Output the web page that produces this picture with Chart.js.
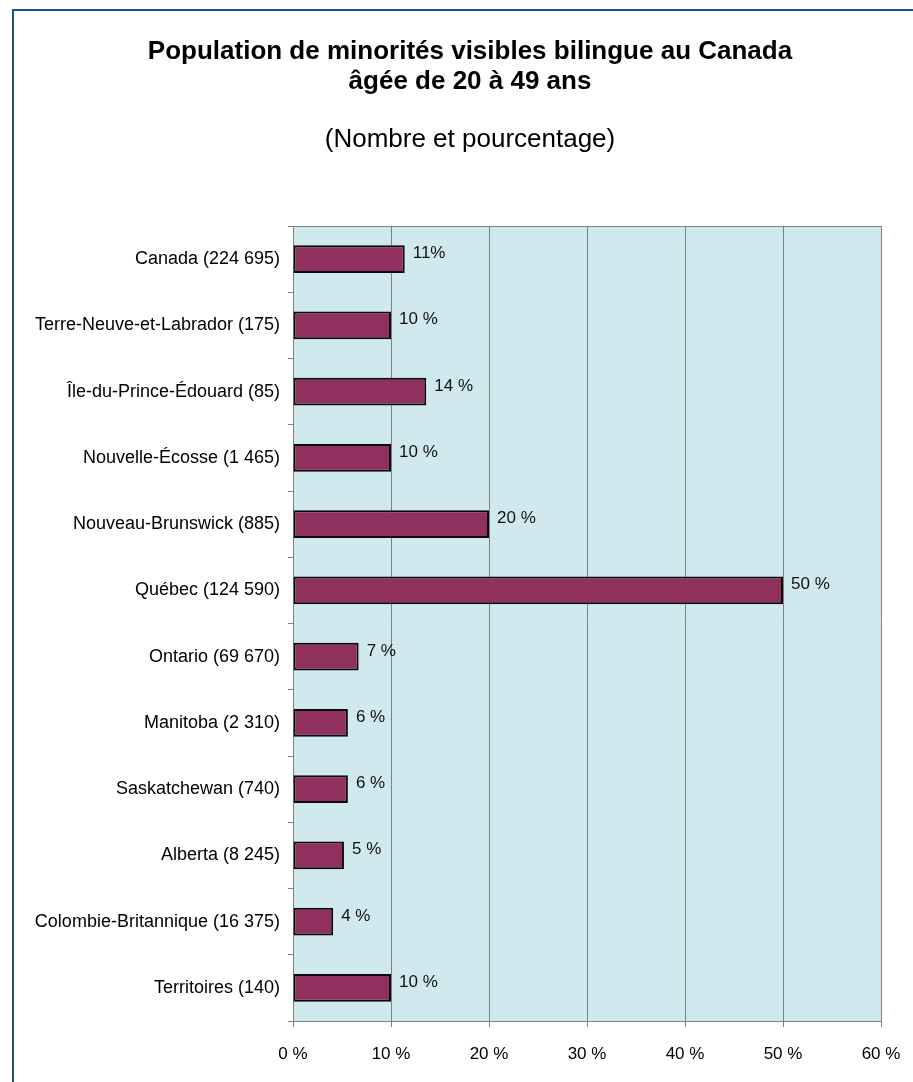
<!DOCTYPE html>
<html lang="fr">
<head>
<meta charset="utf-8">
<script src="https://cdn.jsdelivr.net/npm/chart.js@4.4.1/dist/chart.umd.min.js"></script>
<style>
  html, body { margin: 0; padding: 0; background: #ffffff; overflow: hidden; }
  #wrap { position: relative; width: 913px; height: 1082px; }
  #frame { position: absolute; left: 12px; top: 9px; width: 1000px; height: 1200px;
           border-left: 2px solid #1f4e8a; border-top: 2px solid #1f4e8a; pointer-events: none; }
  canvas { position: absolute; left: 0; top: 0; }
</style>
</head>
<body>
<div id="wrap">
  <canvas id="c" width="913" height="1082"></canvas>
  <div id="frame"></div>
</div>
<script>
const titleLines = ['Population de minorités visibles bilingue au Canada', 'âgée de 20 à 49 ans'];
const subtitleText = '(Nombre et pourcentage)';
const categories = [
  'Canada (224 695)',
  'Terre-Neuve-et-Labrador (175)',
  'Île-du-Prince-Édouard (85)',
  'Nouvelle-Écosse (1 465)',
  'Nouveau-Brunswick (885)',
  'Québec (124 590)',
  'Ontario (69 670)',
  'Manitoba (2 310)',
  'Saskatchewan (740)',
  'Alberta (8 245)',
  'Colombie-Britannique (16 375)',
  'Territoires (140)'
];
const percentValues = [11.4, 10.0, 13.6, 10.0, 20.0, 50.0, 6.7, 5.6, 5.6, 5.2, 4.1, 10.0];
const valueLabels = ['11%', '10 %', '14 %', '10 %', '20 %', '50 %', '7 %', '6 %', '6 %', '5 %', '4 %', '10 %'];
const xTickLabels = ['0 %', '10 %', '20 %', '30 %', '40 %', '50 %', '60 %'];

const FONT = "'Liberation Sans', Arial, sans-serif";

const plotBg = {
  id: 'plotBg',
  beforeDraw(chart) {
    const a = chart.chartArea, ctx = chart.ctx;
    ctx.save();
    ctx.fillStyle = '#cfe9ef';
    ctx.fillRect(a.left, a.top, a.right - a.left, a.bottom - a.top);
    ctx.restore();
  },
  afterDraw(chart) {
    const a = chart.chartArea, ctx = chart.ctx;
    ctx.save();
    ctx.strokeStyle = '#808080';
    ctx.lineWidth = 1;
    ctx.beginPath();
    ctx.moveTo(a.left, a.top + 0.5);
    ctx.lineTo(a.right, a.top + 0.5);
    ctx.stroke();
    ctx.restore();
  }
};

const barLabels = {
  id: 'barLabels',
  afterDatasetsDraw(chart) {
    const ctx = chart.ctx;
    const meta = chart.getDatasetMeta(0);
    ctx.save();
    ctx.font = '17px ' + FONT;
    ctx.fillStyle = '#111111';
    ctx.textAlign = 'left';
    ctx.textBaseline = 'alphabetic';
    meta.data.forEach((bar, i) => {
      ctx.fillText(valueLabels[i], bar.x + 8, bar.y - 1);
    });
    ctx.restore();
  }
};

new Chart(document.getElementById('c'), {
  type: 'bar',
  data: {
    labels: categories,
    datasets: [{
      data: percentValues,
      backgroundColor: '#8f305f',
      borderColor: '#0a0a0a',
      borderWidth: 2,
      borderSkipped: false,
      barPercentage: 0.42,
      categoryPercentage: 1.0
    }]
  },
  options: {
    indexAxis: 'y',
    responsive: false,
    animation: false,
    devicePixelRatio: 1,
    layout: { padding: { left: 27, right: 0, top: 0, bottom: 0 } },
    plugins: {
      legend: { display: false },
      tooltip: { enabled: false },
      title: {
        display: true,
        text: titleLines,
        color: '#000000',
        font: { family: FONT, size: 26, weight: 'bold', lineHeight: 30 / 26 },
        padding: { top: 37, bottom: 28 }
      },
      subtitle: {
        display: true,
        text: subtitleText,
        color: '#000000',
        font: { family: FONT, size: 26, weight: 'normal', lineHeight: 30 / 26 },
        padding: { top: 0, bottom: 71 }
      }
    },
    scales: {
      y: {
        type: 'category',
        afterFit(scale) { scale.width = 266; },
        grid: { offset: true, drawOnChartArea: false, drawTicks: true, tickLength: 5, color: '#808080' },
        border: { display: true, color: '#808080', width: 1 },
        ticks: { padding: 8, color: '#000000', font: { family: FONT, size: 18 } }
      },
      x: {
        type: 'linear',
        min: 0,
        max: 60,
        afterFit(scale) { scale.height = 61; scale.paddingRight = 32; },
        grid: { color: '#808080', lineWidth: 1, tickLength: 6, drawTicks: true },
        border: { display: true, color: '#808080', width: 1 },
        ticks: {
          stepSize: 10,
          padding: 17,
          color: '#000000',
          font: { family: FONT, size: 17 },
          callback: (v, i) => xTickLabels[i]
        }
      }
    }
  },
  plugins: [plotBg, barLabels]
});
</script>
</body>
</html>
